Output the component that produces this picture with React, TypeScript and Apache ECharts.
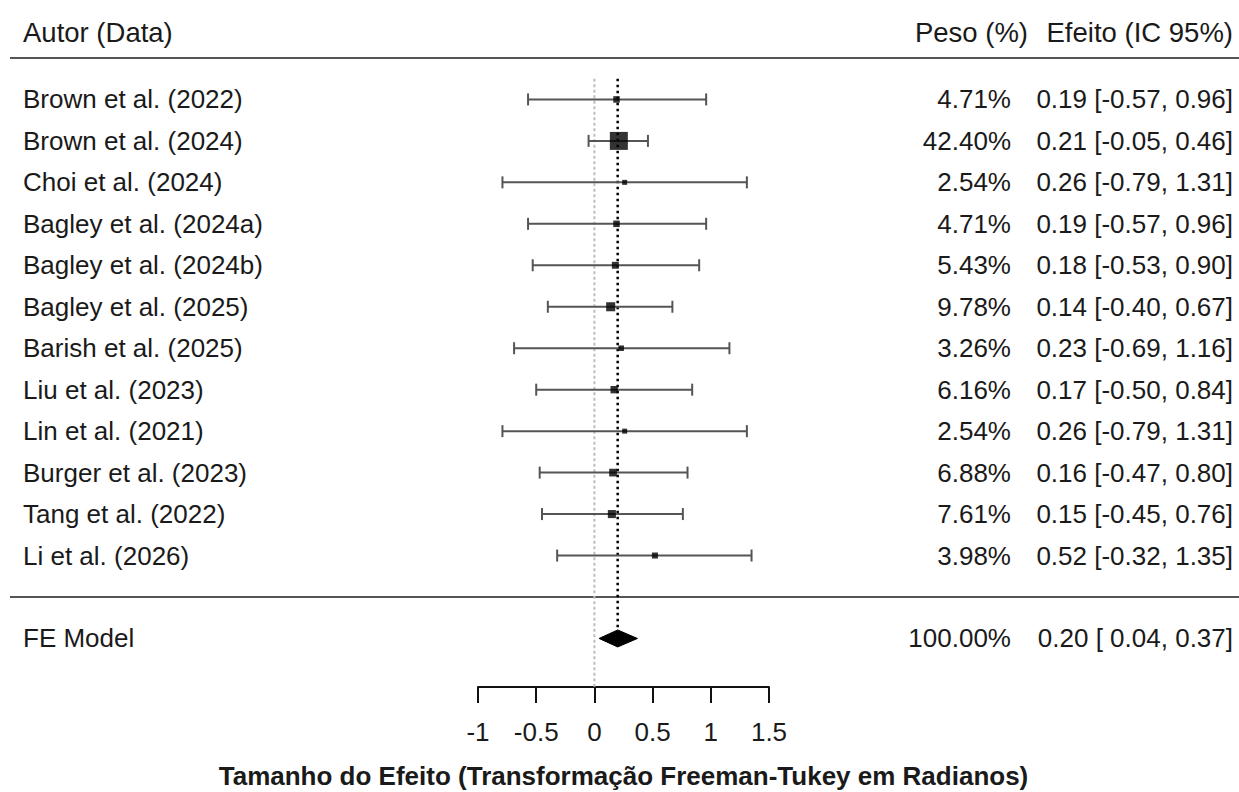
import React, { useEffect, useRef } from "react";
import * as echarts from "echarts";

const labels = [
  "Brown et al. (2022)",
  "Brown et al. (2024)",
  "Choi et al. (2024)",
  "Bagley et al. (2024a)",
  "Bagley et al. (2024b)",
  "Bagley et al. (2025)",
  "Barish et al. (2025)",
  "Liu et al. (2023)",
  "Lin et al. (2021)",
  "Burger et al. (2023)",
  "Tang et al. (2022)",
  "Li et al. (2026)",
];
const weights = [4.71, 42.4, 2.54, 4.71, 5.43, 9.78, 3.26, 6.16, 2.54, 6.88, 7.61, 3.98];
const estimates = [0.19, 0.21, 0.26, 0.19, 0.18, 0.14, 0.23, 0.17, 0.26, 0.16, 0.15, 0.52];
const lowers = [-0.57, -0.05, -0.79, -0.57, -0.53, -0.4, -0.69, -0.5, -0.79, -0.47, -0.45, -0.32];
const uppers = [0.96, 0.46, 1.31, 0.96, 0.9, 0.67, 1.16, 0.84, 1.31, 0.8, 0.76, 1.35];

const feLabel = "FE Model";
const feWeight = 100.0;
const feEstimate = 0.2;
const feLower = 0.04;
const feUpper = 0.37;

const tickValues = [-1, -0.5, 0, 0.5, 1, 1.5];
const xTitle = "Tamanho do Efeito (Transformação Freeman-Tukey em Radianos)";
const headerLeft = "Autor (Data)";
const headerWeight = "Peso (%)";
const headerEffect = "Efeito (IC 95%)";

const FONT = "'Liberation Sans', Arial, Helvetica, sans-serif";
const TXT = "#1a1a1a";

const fmt = (v: number) => (v < 0 ? "-" + Math.abs(v).toFixed(2) : v.toFixed(2));
const fmtLb = (v: number) => (v < 0 ? "-" + Math.abs(v).toFixed(2) : " " + v.toFixed(2));
const effText = (e: number, l: number, u: number) => `${fmt(e)} [${fmtLb(l)}, ${fmt(u)}]`;

export default function App() {
  const ref = useRef<HTMLDivElement>(null);
  useEffect(() => {
    document.body.style.margin = "0";
    const chart = echarts.init(ref.current!, null, { renderer: "svg" });
    const k = labels.length;
    const rows = labels.map((_, i) => k - i);
    const topRow = k + 1;
    const feRow = -1;
    const sq = weights.map((w) => Math.sqrt(w));
    const sMin = Math.min(...sq);
    const sMax = Math.max(...sq);
    const sizeOf = (w: number) => 5 + (13 * (Math.sqrt(w) - sMin)) / (sMax - sMin);

    const textRows = labels.map((l, i) => [0, rows[i], l, weights[i].toFixed(2) + "%", effText(estimates[i], lowers[i], uppers[i])]);
    textRows.push([0, feRow, feLabel, feWeight.toFixed(2) + "%", effText(feEstimate, feLower, feUpper)]);

    const txt = (text: string, x: number, y: number, align: string, size = 26, weight = "normal") => ({
      type: "text",
      x,
      y,
      style: {
        text,
        fontSize: size,
        fontWeight: weight,
        fontFamily: FONT,
        fill: TXT,
        align,
        textAlign: align,
        verticalAlign: "middle",
        textVerticalAlign: "middle",
      },
    });

    const option: any = {
      animation: false,
      grid: { left: 478, top: 16.5, width: 291, height: 670.5, containLabel: false },
      xAxis: {
        type: "value",
        min: tickValues[0],
        max: tickValues[tickValues.length - 1],
        interval: 0.5,
        axisLine: { show: true, onZero: false, lineStyle: { color: "#111", width: 2 } },
        axisTick: { show: true, inside: false, length: 16, lineStyle: { color: "#111", width: 2 } },
        axisLabel: {
          show: true,
          margin: 32,
          fontSize: 26,
          fontFamily: FONT,
          color: TXT,
          showMinLabel: true,
          showMaxLabel: true,
          formatter: (v: number) => String(v),
        },
        splitLine: { show: false },
      },
      yAxis: { type: "value", min: -2.1706, max: 14, show: false, splitLine: { show: false } },
      graphic: [
        { ...txt(headerLeft, 23, 32, "left", 27.5) },
        { ...txt(headerWeight, 1028, 32, "right", 27.5) },
        { ...txt(headerEffect, 1233, 32, "right", 27.5) },
        { ...txt(xTitle, 623.5, 776, "center", 26, "bold") },
      ],
      series: [
        {
          type: "custom",
          name: "separators",
          clip: false,
          silent: true,
          data: [[0, topRow], [0, 0]],
          renderItem: (params: any, api: any) => {
            const y = api.coord([0, api.value(1)])[1];
            return { type: "line", shape: { x1: 10, y1: y, x2: 1239, y2: y }, style: { stroke: "#555", lineWidth: 2 } };
          },
        },
        {
          type: "custom",
          name: "refline",
          clip: false,
          silent: true,
          data: [[0, 12.5, -2.1706]],
          renderItem: (params: any, api: any) => {
            const p1 = api.coord([api.value(0), api.value(1)]);
            const p2 = api.coord([api.value(0), api.value(2)]);
            return {
              type: "line",
              shape: { x1: p1[0], y1: p1[1], x2: p2[0], y2: p2[1] },
              style: { stroke: "#bdbdbd", lineWidth: 2, lineDash: [3, 2.5] },
            };
          },
        },
        {
          type: "custom",
          name: "estline",
          clip: false,
          silent: true,
          data: [[feEstimate, 12.5, feRow]],
          renderItem: (params: any, api: any) => {
            const p1 = api.coord([api.value(0), api.value(1)]);
            const p2 = api.coord([api.value(0), api.value(2)]);
            return {
              type: "line",
              shape: { x1: p1[0], y1: p1[1], x2: p2[0], y2: p2[1] - 8.5 },
              style: { stroke: "#000", lineWidth: 2.5, lineDash: [2.5, 3.5] },
            };
          },
        },
        {
          type: "custom",
          name: "ci",
          clip: false,
          silent: true,
          data: labels.map((_, i) => [lowers[i], rows[i], uppers[i]]),
          renderItem: (params: any, api: any) => {
            const a = api.coord([api.value(0), api.value(1)]);
            const b = api.coord([api.value(2), api.value(1)]);
            const st = { stroke: "#555", lineWidth: 2 };
            return {
              type: "group",
              children: [
                { type: "line", shape: { x1: a[0], y1: a[1], x2: b[0], y2: b[1] }, style: st },
                { type: "line", shape: { x1: a[0], y1: a[1] - 6, x2: a[0], y2: a[1] + 6 }, style: st },
                { type: "line", shape: { x1: b[0], y1: b[1] - 6, x2: b[0], y2: b[1] + 6 }, style: st },
              ],
            };
          },
        },
        {
          type: "scatter",
          name: "est",
          silent: true,
          symbol: "rect",
          data: estimates.map((e, i) => [e, rows[i], weights[i]]),
          symbolSize: (v: number[]) => sizeOf(v[2]),
          itemStyle: { color: "#000" },
        },
        {
          type: "custom",
          name: "diamond",
          clip: false,
          silent: true,
          data: [[feEstimate, feRow, feLower, feUpper]],
          renderItem: (params: any, api: any) => {
            const c = api.coord([api.value(0), api.value(1)]);
            const l = api.coord([api.value(2), api.value(1)]);
            const r = api.coord([api.value(3), api.value(1)]);
            return {
              type: "polygon",
              shape: { points: [[l[0], c[1]], [c[0], c[1] - 8.5], [r[0], c[1]], [c[0], c[1] + 8.5]] },
              style: { fill: "#000", stroke: "#000", lineWidth: 1 },
            };
          },
        },
        {
          type: "custom",
          name: "texts",
          clip: false,
          silent: true,
          data: textRows,
          renderItem: (params: any, api: any) => {
            const i = params.dataIndex;
            const row = textRows[i];
            const y = api.coord([0, api.value(1)])[1];
            return {
              type: "group",
              children: [
                txt(row[2] as string, 23, y, "left"),
                txt(row[3] as string, 1011, y, "right"),
                txt(row[4] as string, 1233, y, "right"),
              ],
            };
          },
        },
      ],
    };
    chart.setOption(option);
    return () => chart.dispose();
  }, []);
  return <div ref={ref} style={{ width: 1239, height: 792 }} />;
}
